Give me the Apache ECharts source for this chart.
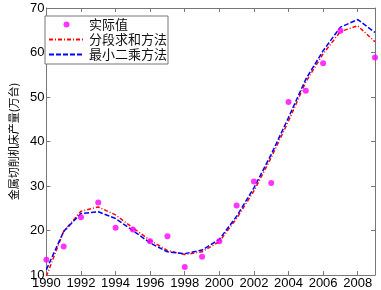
<!DOCTYPE html>
<html>
<head>
<meta charset="utf-8">
<script src="https://cdn.jsdelivr.net/npm/echarts@6/dist/echarts.min.js"></script>
<style>
  html, body { margin: 0; padding: 0; background: #fff; }
  #main { width: 381px; height: 290px; }
</style>
</head>
<body>
<div id="main"></div>
<script>
// years 1990 - 2009
var years = [1990, 1991, 1992, 1993, 1994, 1995, 1996, 1997, 1998, 1999,
             2000, 2001, 2002, 2003, 2004, 2005, 2006, 2007, 2008, 2009]
// 实际值 (no point for 2008)
var actual = [13.4, 16.4, 23.0, 26.3, 20.6, 20.2, 17.6, 18.7, 11.8, 14.1,
              17.6, 25.6, 31.0, 30.7, 48.9, 51.4, 57.6, 64.9, null, 58.9]
// 分段求和方法
var segSum = [9.7, 19.8, 24.3, 25.3, 23.5, 20.6, 17.8, 15.5, 14.6, 15.2,
              17.5, 22.7, 28.9, 36.4, 44.6, 53.4, 59.7, 64.7, 66.0, 62.4]
// 最小二乘方法
var lsq = [11.2, 19.8, 23.8, 24.2, 22.7, 20.0, 17.2, 15.2, 14.8, 15.6,
           18.0, 23.2, 29.6, 37.1, 45.4, 54.0, 60.4, 65.7, 67.4, 64.5]

function pairs(arr) {
  var out = []
  for (var i = 0; i < years.length; i++) {
    if (arr[i] != null) out.push([years[i], arr[i]])
  }
  return out
}

var frame = '#777'
var tickFont = { color: '#000', fontSize: 13, fontFamily: 'Liberation Sans, Arial, sans-serif' }

var chart = echarts.init(document.getElementById('main'), null, { renderer: 'canvas' })
chart.setOption({
  animation: false,
  grid: { left: 35.5, right: 6, top: 8, bottom: 14.5 },
  legend: {
    left: 45, top: 16,
    orient: 'vertical',
    backgroundColor: '#fff',
    borderColor: frame,
    borderWidth: 1,
    padding: [2, 1, 3, 3],
    itemWidth: 35, itemHeight: 6, itemGap: 2,
    textStyle: { fontSize: 13, color: '#111', fontFamily: 'Noto Sans CJK SC' },
    data: [
      '实际值',
      { name: '分段求和方法', itemStyle: { opacity: 0 } },
      { name: '最小二乘方法', itemStyle: { opacity: 0 } }
    ]
  },
  xAxis: [{
    type: 'value', min: 1990, max: 2009, interval: 2,
    axisLine: { lineStyle: { color: frame } },
    axisTick: { inside: true, length: 4, lineStyle: { color: frame } },
    axisLabel: Object.assign({
      showMaxLabel: false, margin: 2,
      formatter: function (v) { return String(v) }
    }, tickFont),
    splitLine: { show: false }
  }, {
    type: 'value', position: 'top', min: 1990, max: 2009, interval: 2,
    axisLine: { lineStyle: { color: frame } },
    axisTick: { inside: true, length: 4, lineStyle: { color: frame } },
    axisLabel: { show: false },
    splitLine: { show: false }
  }],
  yAxis: [{
    type: 'value', min: 10, max: 70, interval: 10,
    name: '金属切削机床产量(万台)',
    nameLocation: 'middle', nameGap: 20,
    nameTextStyle: { fontSize: 11, color: '#000', fontFamily: 'Noto Sans CJK SC' },
    axisLine: { show: true, lineStyle: { color: frame } },
    axisTick: { show: true, inside: true, length: 4, lineStyle: { color: frame } },
    axisLabel: Object.assign({ margin: 2 }, tickFont),
    splitLine: { show: false }
  }, {
    type: 'value', position: 'right', min: 10, max: 70, interval: 10,
    axisLine: { show: true, lineStyle: { color: frame } },
    axisTick: { show: true, inside: true, length: 4, lineStyle: { color: frame } },
    axisLabel: { show: false },
    splitLine: { show: false }
  }],
  series: [{
    name: '实际值', type: 'scatter',
    symbol: 'circle', symbolSize: 6,
    itemStyle: { color: '#ff00ff' },
    data: pairs(actual), z: 3
  }, {
    name: '分段求和方法', type: 'line',
    symbol: 'none',
    lineStyle: { color: '#ff0000', width: 1.5, type: [4, 2, 1, 2] },
    itemStyle: { color: '#ff0000' },
    data: pairs(segSum)
  }, {
    name: '最小二乘方法', type: 'line',
    symbol: 'none',
    lineStyle: { color: '#0000ff', width: 1.5, type: [5, 2] },
    itemStyle: { color: '#0000ff' },
    data: pairs(lsq)
  }]
})
</script>
</body>
</html>
